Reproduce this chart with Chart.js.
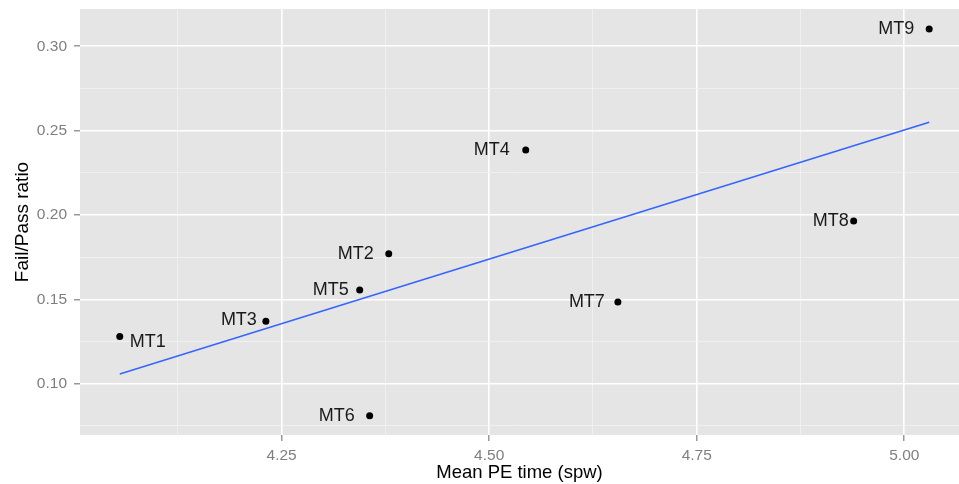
<!DOCTYPE html>
<html>
<head>
<meta charset="utf-8">
<script src="https://cdn.jsdelivr.net/npm/chart.js@4.4.1/dist/chart.umd.min.js"></script>
<style>
  html, body { margin: 0; padding: 0; background: #fff; overflow: hidden; }
  #wrap { width: 959px; height: 484px; }
</style>
</head>
<body>
<div id="wrap"><canvas id="c" width="959" height="484"></canvas></div>
<script>
// ---- data ----
const labels = ["MT1", "MT2", "MT3", "MT4", "MT5", "MT6", "MT7", "MT8", "MT9"];
const peTime = [4.055, 4.379, 4.231, 4.544, 4.344, 4.356, 4.655, 4.939, 5.030];
const failPass = [0.128, 0.177, 0.137, 0.2385, 0.1555, 0.081, 0.1484, 0.1964, 0.3103];
const fitX = [4.055, 5.030];
const fitY = [0.1057, 0.2550];
const xMajorTicks = [4.25, 4.50, 4.75, 5.00];
const xMinorTicks = [4.125, 4.375, 4.625, 4.875];
const yMajorTicks = [0.10, 0.15, 0.20, 0.25, 0.30];
const yMinorTicks = [0.075, 0.125, 0.175, 0.225, 0.275];

// ---- label placement (style) ----
const labelStyle = {
  MT1: { align: "left", dx: 10, dy: 6 },
  MT2: { align: "right", dx: -15, dy: 0 },
  MT3: { align: "right", dx: -9, dy: -1 },
  MT4: { align: "right", dx: -16, dy: 0 },
  MT5: { align: "right", dx: -11, dy: 0 },
  MT6: { align: "right", dx: -15, dy: 0 },
  MT7: { align: "right", dx: -13, dy: 0 },
  MT8: { align: "right", dx: -5, dy: 0 },
  MT9: { align: "right", dx: -15, dy: 0 }
};

const FONT = "'Liberation Sans', Arial, Helvetica, sans-serif";

const panelBg = {
  id: "panelBg",
  beforeDraw(chart) {
    const { ctx, chartArea: a } = chart;
    ctx.save();
    ctx.fillStyle = "#E5E5E5";
    ctx.fillRect(a.left, a.top, a.right - a.left, a.bottom - a.top);
    ctx.restore();
  }
};

const pointLabels = {
  id: "pointLabels",
  afterDatasetsDraw(chart) {
    const { ctx } = chart;
    const meta = chart.getDatasetMeta(1);
    ctx.save();
    ctx.font = "18px " + FONT;
    ctx.fillStyle = "#1a1a1a";
    ctx.textBaseline = "middle";
    meta.data.forEach((el, i) => {
      const name = labels[i];
      const s = labelStyle[name];
      ctx.textAlign = s.align;
      ctx.fillText(name, el.x + s.dx, el.y + s.dy);
    });
    ctx.restore();
  }
};

function isIn(arr, v) { return arr.some(a => Math.abs(a - v) < 1e-9); }
function noPad(s) { s.paddingLeft = 0; s.paddingRight = 0; s.paddingTop = 0; s.paddingBottom = 0; }

new Chart(document.getElementById("c"), {
  data: {
    datasets: [
      {
        type: "line",
        data: fitX.map((x, i) => ({ x, y: fitY[i] })),
        borderColor: "#3366FF",
        borderWidth: 1.6,
        pointRadius: 0,
        fill: false,
        order: 2
      },
      {
        type: "scatter",
        data: peTime.map((x, i) => ({ x, y: failPass[i] })),
        backgroundColor: "#000",
        borderColor: "#000",
        pointRadius: 3.5,
        borderWidth: 0,
        order: 1
      }
    ]
  },
  options: {
    responsive: false,
    animation: false,
    events: [],
    layout: { autoPadding: false, padding: { top: 9, right: 0, left: 0, bottom: 0 } },
    plugins: { legend: { display: false }, tooltip: { enabled: false } },
    scales: {
      x: {
        type: "linear",
        min: 4.0071,
        max: 5.0659,
        afterFit(s) { s.height = 49; noPad(s); },
        afterBuildTicks(s) {
          s.ticks = xMinorTicks.concat(xMajorTicks).sort((a, b) => a - b).map(v => ({ value: v }));
        },
        border: { display: false },
        grid: {
          color: c => (c.tick && isIn(xMajorTicks, c.tick.value)) ? "#FFFFFF" : "#F2F2F2",
          lineWidth: c => (c.tick && isIn(xMajorTicks, c.tick.value)) ? 1.6 : 0.8,
          tickColor: c => (c.tick && isIn(xMajorTicks, c.tick.value)) ? "#7F7F7F" : "rgba(0,0,0,0)",
          tickWidth: 1.2,
          tickLength: 6,
          drawTicks: true
        },
        ticks: {
          autoSkip: false,
          maxRotation: 0,
          padding: 5,
          color: "#7F7F7F",
          font: { family: FONT, size: 15.5 },
          callback: v => isIn(xMajorTicks, v) ? v.toFixed(2) : ""
        },
        title: {
          display: true,
          text: "Mean PE time (spw)",
          color: "#000",
          font: { family: FONT, size: 18.5 },
          padding: { top: 0, bottom: 0 }
        }
      },
      y: {
        type: "linear",
        min: 0.0696,
        max: 0.3221,
        afterFit(s) { s.width = 80; noPad(s); },
        afterBuildTicks(s) {
          s.ticks = yMinorTicks.concat(yMajorTicks).sort((a, b) => a - b).map(v => ({ value: v }));
        },
        border: { display: false },
        grid: {
          color: c => (c.tick && isIn(yMajorTicks, c.tick.value)) ? "#FFFFFF" : "#F2F2F2",
          lineWidth: c => (c.tick && isIn(yMajorTicks, c.tick.value)) ? 1.6 : 0.8,
          tickColor: c => (c.tick && isIn(yMajorTicks, c.tick.value)) ? "#7F7F7F" : "rgba(0,0,0,0)",
          tickWidth: 1.2,
          tickLength: 6,
          drawTicks: true
        },
        ticks: {
          autoSkip: false,
          padding: 7,
          color: "#7F7F7F",
          font: { family: FONT, size: 15.5 },
          callback: v => isIn(yMajorTicks, v) ? v.toFixed(2) : ""
        },
        title: {
          display: true,
          text: "Fail/Pass ratio",
          color: "#000",
          font: { family: FONT, size: 19 },
          padding: { top: 11, bottom: 0 }
        }
      }
    }
  },
  plugins: [panelBg, pointLabels]
});
</script>
</body>
</html>
